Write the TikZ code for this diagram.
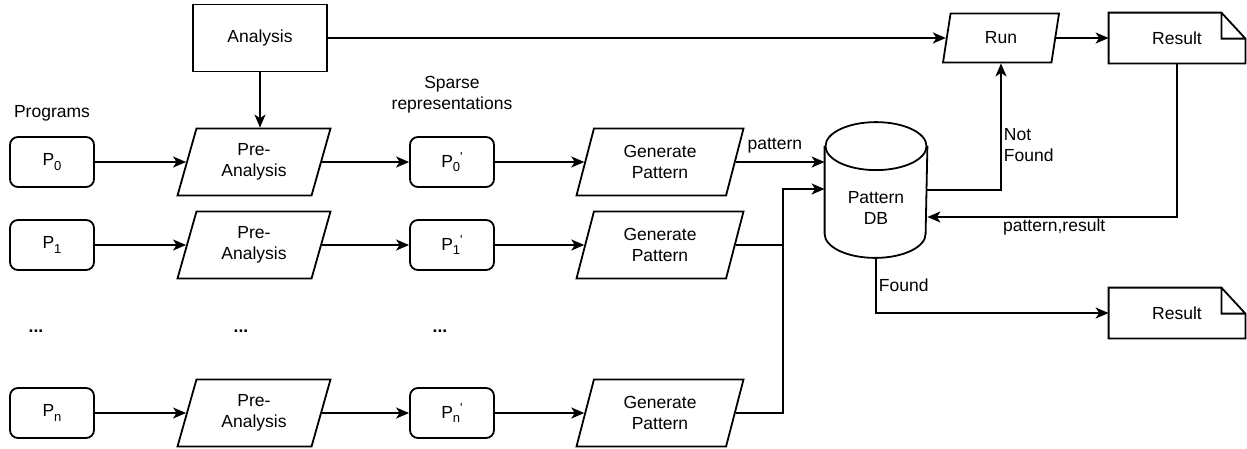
\documentclass[tikz,border=0pt]{standalone}
\usepackage{fontspec}
\setmainfont{Liberation Sans}
\usetikzlibrary{positioning,shapes.geometric,arrows.meta}

\newcommand{\lowidx}[1]{\raisebox{-4.5pt}{\fontsize{13}{13}\selectfont #1}}
\newcommand{\primemark}{\raisebox{6pt}{\fontsize{13}{13}\selectfont\textquotesingle}}

\begin{document}
\begin{tikzpicture}[x=1pt, y=1pt, line width=1.8pt,
            >={Stealth[length=13pt,width=11pt,inset=3.5pt]},
            every node/.style = {font=\fontsize{17.5}{21}\selectfont, align=center, inner sep=2pt},
            prog/.style = {draw, rounded corners=8pt, minimum width=84pt, minimum height=50pt},
            proc/.style = {draw, trapezium, trapezium left angle=65, trapezium right angle=115,
                    trapezium stretches body, minimum height=67pt},
            doc/.style = {minimum width=135pt, minimum height=49pt},
            dbase/.style = {minimum width=101pt, minimum height=134pt},
        ]
        \useasboundingbox (0,0) rectangle (1247,-448);

        \node[draw, minimum width=134pt, minimum height=67pt] (ana) at (260,-38) {Analysis};
        \node[proc, minimum width=116pt, minimum height=49pt] (run) at (1001,-38) {Run};
        \node[doc] (res1) at (1177,-38) {Result};
        \node[doc] (res2) at (1177,-313) {Result};
        \node[dbase, label={[yshift=-18pt]center:Pattern\\DB}] (db) at (876,-190) {};

        \foreach \i/\y in {0/162, 1/245, n/413}
            {
                \node[prog] (p\i) at (52,-\y) {P\lowidx{\i}};
                \node[proc, minimum width=153pt] (pre\i) at (254,-\y) {Pre-\\Analysis};
                \node[prog] (s\i) at (452,-\y) {P\lowidx{\i}\primemark};
                \node[proc, minimum width=167pt] (gen\i) at (660,-\y) {Generate\\Pattern};
                \draw[->] (p\i) -- (pre\i);
                \draw[->] (pre\i) -- (s\i);
                \draw[->] (s\i) -- (gen\i);
            }
        \foreach \x [count=\k] in {36,241,440}
            \node (dots\k) at (\x,-331) {\textbf{...}};

        \node[above=12pt of p0] (progs) {Programs};
        \node[above=20pt of s0] (sparse) {Sparse\\representations};

        % database and documents
        \draw ([yshift=-24pt]db.north) ellipse [x radius=50.5, y radius=24];
        \draw ([yshift=-24pt]db.north west) -- ([yshift=24pt]db.south west)
            arc [start angle=180, end angle=360, x radius=50.5, y radius=24] -- ([yshift=-24pt]db.north east);
        \foreach \r in {res1,res2}
            \draw (\r.south west) -- (\r.north west) -- ([xshift=-24pt]\r.north east)
                -- ([yshift=-26pt]\r.north east) -- (\r.south east) -- cycle
                ([xshift=-24pt]\r.north east) |- ([yshift=-26pt]\r.north east);

        \coordinate (join) at (783,-189);
        \draw[->] (ana.south) -- (ana.south |- pre0.north);
        \draw[->] (ana.east) -- (run.west);
        \draw[->] (run.east) -- (res1.west);
        \draw[->] (gen0.east) -- node[above, pos=0.44, yshift=6pt] {pattern} (gen0.east -| db.west);
        \draw[->] (gen1.east) -| (join) -- (join -| db.west);
        \draw (genn.east) -| (join);
        \draw[->] (db.east) -| node[right, align=left, pos=0.676] {Not\\Found} (run.south);
        \draw[->] (res1.south) |- node[below, pos=0.746, inner sep=1pt] {pattern,result} ([yshift=-27pt]db.east);
        \draw[->] (db.south) |- node[right, pos=0.25] {Found} (res2.west);
    \end{tikzpicture}
\end{document}
